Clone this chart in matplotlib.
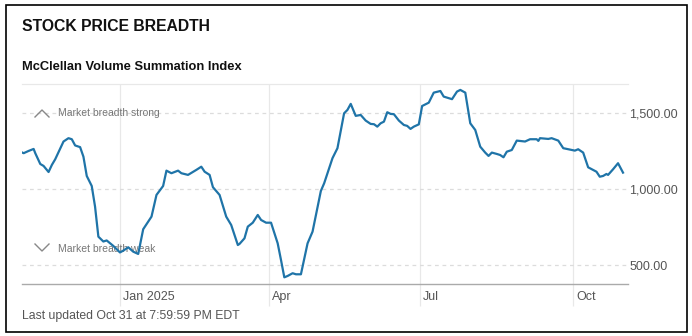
import matplotlib
matplotlib.use('Agg')
import matplotlib.pyplot as plt
import matplotlib.transforms as mtransforms
from matplotlib.lines import Line2D
from matplotlib.patches import Rectangle
from matplotlib.ticker import FuncFormatter
import pandas as pd

# McClellan Volume Summation Index
dates = [
    '2024-11-03', '2024-11-04', '2024-11-07', '2024-11-10', '2024-11-11', '2024-11-14',
    '2024-11-16', '2024-11-19', '2024-11-21', '2024-11-23', '2024-11-26', '2024-11-28',
    '2024-12-01', '2024-12-03', '2024-12-05', '2024-12-08', '2024-12-10', '2024-12-12',
    '2024-12-15', '2024-12-17', '2024-12-19', '2024-12-22', '2024-12-24', '2024-12-28',
    '2025-01-01', '2025-01-03', '2025-01-06', '2025-01-09', '2025-01-12', '2025-01-15',
    '2025-01-20', '2025-01-23', '2025-01-27', '2025-01-29', '2025-02-01', '2025-02-05',
    '2025-02-07', '2025-02-11', '2025-02-16', '2025-02-19', '2025-02-21', '2025-02-24',
    '2025-02-26', '2025-03-02', '2025-03-06', '2025-03-09', '2025-03-13', '2025-03-14',
    '2025-03-17', '2025-03-19', '2025-03-22', '2025-03-25', '2025-03-27', '2025-03-30',
    '2025-04-02', '2025-04-06', '2025-04-08', '2025-04-10', '2025-04-12', '2025-04-15',
    '2025-04-17', '2025-04-20', '2025-04-24', '2025-04-27', '2025-05-02', '2025-05-04',
    '2025-05-06', '2025-05-09', '2025-05-12', '2025-05-16', '2025-05-18', '2025-05-20',
    '2025-05-23', '2025-05-26', '2025-05-29', '2025-06-01', '2025-06-03', '2025-06-05',
    '2025-06-07', '2025-06-09', '2025-06-11', '2025-06-13', '2025-06-15', '2025-06-18',
    '2025-06-21', '2025-06-23', '2025-06-25', '2025-06-27', '2025-06-30', '2025-07-02',
    '2025-07-06', '2025-07-09', '2025-07-13', '2025-07-15', '2025-07-20', '2025-07-23',
    '2025-07-25', '2025-07-28', '2025-07-31', '2025-08-03', '2025-08-06', '2025-08-09',
    '2025-08-11', '2025-08-13', '2025-08-16', '2025-08-18', '2025-08-20', '2025-08-22',
    '2025-08-25', '2025-08-28', '2025-09-02', '2025-09-05', '2025-09-09', '2025-09-10',
    '2025-09-11', '2025-09-16', '2025-09-18', '2025-09-22', '2025-09-25', '2025-09-28',
    '2025-10-02', '2025-10-04', '2025-10-07', '2025-10-10', '2025-10-13', '2025-10-15',
    '2025-10-17', '2025-10-19', '2025-10-21', '2025-10-22', '2025-10-25', '2025-10-28',
    '2025-10-31',
]
values = [
    1242, 1237, 1252, 1265, 1237, 1166,
    1153, 1113, 1160, 1197, 1268, 1314,
    1336, 1329, 1288, 1277, 1214, 1087,
    1021, 885, 687, 655, 662, 626,
    583, 595, 617, 588, 573, 736,
    819, 962, 1021, 1122, 1105, 1122,
    1105, 1094, 1127, 1148, 1115, 1094,
    1013, 962, 819, 764, 632, 639,
    676, 753, 779, 830, 797, 779,
    779, 643, 533, 419, 428, 446,
    439, 439, 643, 720, 988, 1039,
    1105, 1204, 1270, 1500, 1522, 1562,
    1483, 1489, 1452, 1430, 1428, 1412,
    1434, 1445, 1507, 1496, 1494, 1452,
    1423, 1417, 1397, 1412, 1427, 1548,
    1570, 1636, 1647, 1610, 1593, 1643,
    1654, 1636, 1434, 1390, 1280, 1241,
    1219, 1241, 1232, 1225, 1210, 1247,
    1258, 1320, 1314, 1329, 1329, 1318,
    1336, 1331, 1336, 1320, 1270, 1263,
    1254, 1263, 1241, 1144, 1127, 1115,
    1082, 1087, 1100, 1094, 1131, 1171,
    1109,
]

tick_dates = ['2025-01-01', '2025-04-01', '2025-07-01', '2025-10-01']
tick_labels = ['Jan 2025', 'Apr', 'Jul', 'Oct']
y_ticks = [500, 1000, 1500]

plt.rcParams['font.family'] = ['Liberation Sans', 'DejaVu Sans']

W, H = 692, 336
fig = plt.figure(figsize=(W / 100, H / 100), dpi=100)
fig.patch.set_facecolor('white')

ax = fig.add_axes([22 / W, 52 / H, 606 / W, 200 / H])
ax.plot(pd.to_datetime(dates), values, color='#1f74a8', lw=1.6,
        solid_joinstyle='round', zorder=3)
ax.set_xlim(pd.Timestamp('2024-11-03'), pd.Timestamp('2025-11-03'))
ax.set_ylim(375, 1693)

# y axis on the right, dashed horizontal grid
ax.yaxis.tick_right()
ax.set_yticks(y_ticks)
ax.yaxis.set_major_formatter(FuncFormatter(lambda v, pos: '{:,.2f}'.format(v)))
ax.tick_params(axis='y', length=0, pad=1, labelsize=9, labelcolor='#555555')
ax.yaxis.grid(True, ls=(0, (3, 3)), color='#dcdcdc', lw=0.9)

# x axis: quarter lines running down past the baseline
ax.set_xticks(pd.to_datetime(tick_dates))
ax.set_xticklabels(tick_labels)
ax.xaxis.grid(True, color='#e8e8e8', lw=0.9)
ax.tick_params(axis='x', direction='out', length=16, width=0.9, color='#e8e8e8',
               pad=-11, labelsize=9, labelcolor='#555555')
shift = mtransforms.ScaledTranslation(2 / 72, 0, fig.dpi_scale_trans)
for lab in ax.get_xticklabels():
    lab.set_ha('left')
    lab.set_transform(lab.get_transform() + shift)

for side in ['left', 'right']:
    ax.spines[side].set_visible(False)
ax.spines['top'].set_color('#e8e8e8')
ax.spines['top'].set_linewidth(0.9)
ax.spines['bottom'].set_color('#aaaaaa')
ax.spines['bottom'].set_linewidth(1.0)
ax.set_axisbelow(True)

# breadth markers
ax.text(58 / W, 1 - 113 / H, 'Market breadth strong', transform=fig.transFigure,
        va='center', size=7.5, color='#777777', zorder=2)
ax.text(58 / W, 1 - 249 / H, 'Market breadth weak', transform=fig.transFigure,
        va='center', size=7.5, color='#777777', zorder=2)
fig.add_artist(Line2D([35 / W, 42 / W, 49 / W], [1 - 117 / H, 1 - 110 / H, 1 - 117 / H],
                      color='#888888', lw=1.0))
fig.add_artist(Line2D([35 / W, 42 / W, 49 / W], [1 - 244 / H, 1 - 251 / H, 1 - 244 / H],
                      color='#888888', lw=1.0))

fig.text(22 / W, 1 - 26.5 / H, 'STOCK PRICE BREADTH', weight='bold', size=11.3,
         va='center', color='#111111')
fig.text(22 / W, 1 - 67 / H, 'McClellan Volume Summation Index', weight='bold', size=9.3,
         va='center', color='#111111')
fig.text(22 / W, 1 - 316 / H, 'Last updated Oct 31 at 7:59:59 PM EDT', size=8.8,
         va='center', color='#555555')

fig.add_artist(Rectangle((6 / W, 4 / H), 681 / W, 327 / H, transform=fig.transFigure,
                         fill=False, ec='black', lw=1.2))

fig.savefig('out.png', dpi=100, facecolor='white')
